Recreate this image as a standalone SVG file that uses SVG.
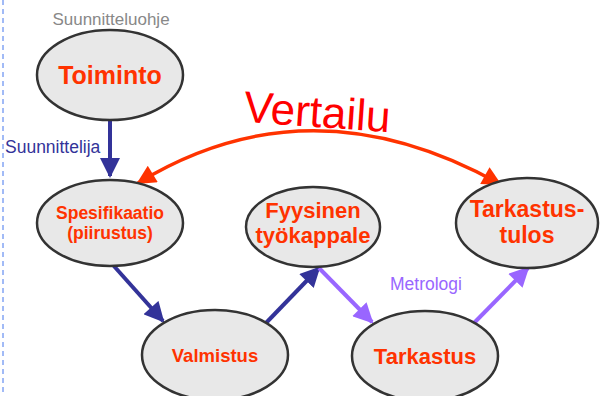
<svg xmlns="http://www.w3.org/2000/svg" width="604" height="396" viewBox="0 0 604 396">
<style>
.n{fill:#e8e8e8;stroke:#333;stroke-width:2.5}
.t{font-family:"Liberation Sans",Arial,sans-serif;font-weight:bold;fill:#ff3300;text-anchor:middle}
.l{font-family:"Liberation Sans",Arial,sans-serif}
.nv{stroke:#333399;stroke-width:4;fill:none}
.pu{stroke:#9966ff;stroke-width:4;fill:none}
.rd{stroke:#ff3300;stroke-width:3.5;fill:none}
</style>
<defs>
<marker id="an" viewBox="0 0 10 10" refX="9" refY="5" markerWidth="5.2" markerHeight="5" markerUnits="strokeWidth" orient="auto"><path d="M0,0L10,5L0,10z" fill="#333399"/></marker>
<marker id="ap" viewBox="0 0 10 10" refX="9" refY="5" markerWidth="5.2" markerHeight="5" markerUnits="strokeWidth" orient="auto"><path d="M0,0L10,5L0,10z" fill="#9966ff"/></marker>
<marker id="ar" viewBox="0 0 10 10" refX="9" refY="5" markerWidth="6.5" markerHeight="5.5" markerUnits="strokeWidth" orient="auto-start-reverse"><path d="M0,0L10,5L0,10z" fill="#ff3300"/></marker>
</defs>
<line x1="3" y1="0" x2="3" y2="396" stroke="#4477ee" stroke-width="1" stroke-dasharray="5,4"/>
<text class="l" x="111" y="25" font-size="17" fill="#888" text-anchor="middle">Suunnitteluohje</text>
<text class="l" x="5" y="153" font-size="17.5" fill="#333399">Suunnittelija</text>
<text class="l" x="426" y="290" font-size="17.5" fill="#9966ff" text-anchor="middle">Metrologi</text>
<text class="l" x="317" y="127" font-size="44" fill="#ff0000" text-anchor="middle" transform="rotate(4 317 115)">Vertailu</text>
<g id="connectors">
<line class="nv" x1="110" y1="120" x2="110" y2="176" marker-end="url(#an)"/>
<line class="nv" x1="113" y1="265" x2="163" y2="321" marker-end="url(#an)"/>
<line class="nv" x1="265" y1="324" x2="319" y2="268" marker-end="url(#an)"/>
<line class="pu" x1="319" y1="268" x2="372" y2="322" marker-end="url(#ap)"/>
<line class="pu" x1="474" y1="323" x2="528" y2="268" marker-end="url(#ap)"/>
<path class="rd" d="M138,183 Q310,78 500,184" marker-start="url(#ar)" marker-end="url(#ar)"/>
</g>
<g id="toiminto"><ellipse class="n" cx="110" cy="75" rx="73" ry="45"/><text class="t" x="110" y="84" font-size="25">Toiminto</text></g>
<g id="spesifikaatio"><ellipse class="n" cx="110" cy="223" rx="73" ry="43"/><text class="t" x="110" y="219" font-size="17.5">Spesifikaatio</text><text class="t" x="110" y="239" font-size="17.5">(piirustus)</text></g>
<g id="fyysinen"><ellipse class="n" cx="313" cy="227" rx="67" ry="40"/><text class="t" x="313" y="218" font-size="22">Fyysinen</text><text class="t" x="313" y="243" font-size="22">työkappale</text></g>
<g id="tarkastustulos"><ellipse class="n" cx="527" cy="223" rx="71" ry="45"/><text class="t" x="527" y="217" font-size="23">Tarkastus-</text><text class="t" x="527" y="243" font-size="23">tulos</text></g>
<g id="valmistus"><ellipse class="n" cx="215" cy="355" rx="73" ry="45"/><text class="t" x="215" y="362" font-size="18.5">Valmistus</text></g>
<g id="tarkastus"><ellipse class="n" cx="425" cy="356" rx="73" ry="45"/><text class="t" x="425" y="364" font-size="22">Tarkastus</text></g>
</svg>
